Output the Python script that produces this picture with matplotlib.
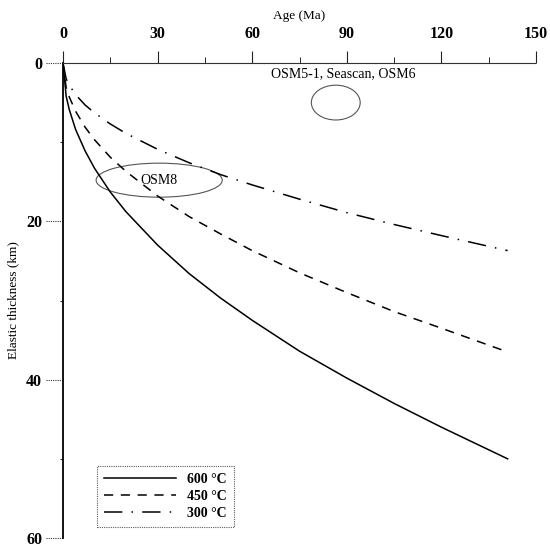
import matplotlib
matplotlib.use("Agg")
import matplotlib.pyplot as plt
from matplotlib.patches import Ellipse
import matplotlib.transforms as mtrans

# Data
age = [0, 1, 2, 4, 7, 10, 15, 20, 30, 40, 50, 60, 75, 90, 105, 120, 141]
te_600 = [0, 4.2, 5.9, 8.4, 11.1, 13.3, 16.3, 18.8, 23.0, 26.6, 29.7, 32.5, 36.4, 39.8, 43.0, 46.0, 50.0]
te_450 = [0, 3.1, 4.3, 6.1, 8.1, 9.7, 11.9, 13.7, 16.8, 19.4, 21.6, 23.7, 26.5, 29.0, 31.4, 33.5, 36.5]
te_300 = [0, 2.0, 2.8, 4.0, 5.3, 6.3, 7.7, 8.9, 10.9, 12.6, 14.1, 15.4, 17.2, 18.9, 20.4, 21.8, 23.7]
series_labels = ["600 °C", "450 °C", "300 °C"]

x_ticks = [0, 30, 60, 90, 120, 150]
x_minor = [15, 45, 75, 105, 135]
y_ticks = [0, 20, 40, 60]
y_minor = [10, 30, 50]

# Observation ellipses: (label, center age, center Te, width, height)
osm8 = ("OSM8", 30.5, 14.8, 40, 4.3)
osm5 = ("OSM5-1, Seascan, OSM6", 86.5, 5.0, 15.5, 4.4)
osm5_label_pos = (89, 1.4)

plt.rcParams['font.family'] = ['Liberation Serif', 'DejaVu Serif']

fig = plt.figure(figsize=(5.5, 5.48), dpi=100)
W, H = 550, 548
x0, x1, y0, y1 = 63, 536, 63, 538
ax = fig.add_axes([x0 / W, 1 - y1 / H, (x1 - x0) / W, (y1 - y0) / H])

ax.plot(age, te_600, color='black', lw=1.1, ls='-', label=series_labels[0])
ax.plot(age, te_450, color='black', lw=1.1, ls=(0, (6, 5)), label=series_labels[1])
ax.plot(age, te_300, color='black', lw=1.1, ls=(0, (12, 6, 1, 6)), label=series_labels[2])

for lab, cx, cy, w, h in [osm8, osm5]:
    ax.add_patch(Ellipse((cx, cy), w, h, fill=False, edgecolor='#555555', lw=0.8))
ax.text(osm8[1], osm8[2], osm8[0], ha='center', va='center', fontsize=10)
ax.text(osm5_label_pos[0], osm5_label_pos[1], osm5[0], ha='center', va='center', fontsize=10)

ax.set_xlim(0, 150)
ax.set_ylim(60, 0)
ax.xaxis.tick_top()
ax.xaxis.set_label_position('top')
ax.set_xticks(x_ticks)
ax.set_xticks(x_minor, minor=True)
ax.set_yticks(y_ticks)
ax.set_yticks(y_minor, minor=True)
ax.tick_params(axis='x', which='major', direction='out', length=9, width=0.8, pad=6,
               labelsize=11.5, colors='#222222')
ax.tick_params(axis='x', which='minor', direction='out', length=4, width=0.7, colors='#222222')
ax.tick_params(axis='y', which='major', length=0, pad=15, labelsize=11.5)
ax.tick_params(axis='y', which='minor', direction='out', length=2, width=0.6)
for t in ax.get_xticklabels() + ax.get_yticklabels():
    t.set_fontweight('bold')
    t.set_color('black')

# dotted y tick lines
trans = mtrans.blended_transform_factory(ax.transAxes, ax.transData)
for yt in y_ticks:
    ax.plot([-17 / (x1 - x0), 0], [yt, yt], transform=trans, color='#333333', ls=(0, (1, 1)),
            lw=0.8, clip_on=False)

ax.set_xlabel('Age (Ma)', fontsize=9.5, labelpad=5)
ax.set_ylabel('Elastic thickness (km)', fontsize=9.5, labelpad=5)

ax.spines['right'].set_visible(False)
ax.spines['bottom'].set_visible(False)
ax.spines['left'].set_linewidth(1.3)
ax.spines['top'].set_linestyle((0, (1, 1)))
ax.spines['top'].set_linewidth(0.8)
ax.spines['top'].set_color('#333333')

leg = ax.legend(loc='lower left', bbox_to_anchor=(34 / (x1 - x0), 11 / (y1 - y0)), frameon=True,
                fancybox=False, edgecolor='#333333', fontsize=10, handlelength=5.2,
                handletextpad=0.8, borderpad=0.5, labelspacing=0.3, borderaxespad=0)
leg.get_frame().set_linestyle((0, (1, 1)))
leg.get_frame().set_linewidth(0.8)
for t in leg.get_texts():
    t.set_fontweight('bold')

fig.savefig('out.png', dpi=100)
